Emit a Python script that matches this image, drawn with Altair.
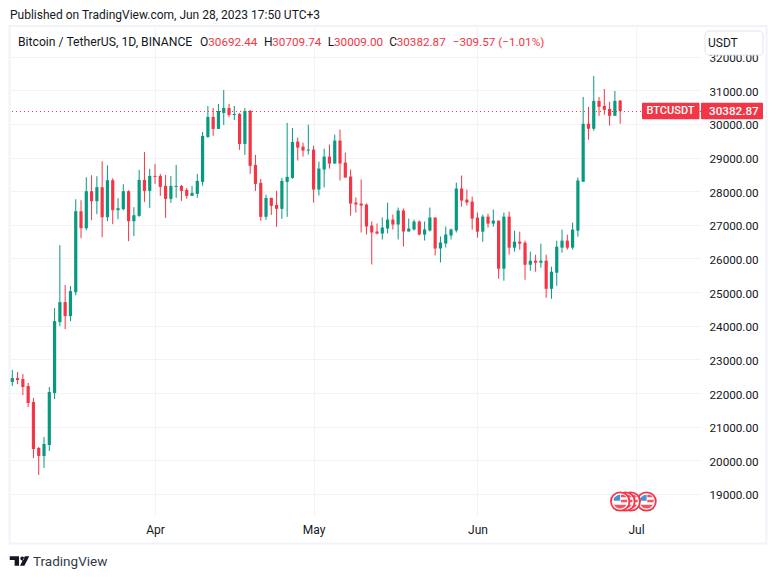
import altair as alt
import pandas as pd

opens = [22330,22446,22416,22209,21733,20367,20130,20456,22000,24109,24703,24287,25000,27406,26901,28000,27703,28119,27228,28327,27436,27465,28000,27109,
27268,28337,28010,28456,28456,28159,27773,28129,28159,28040,27862,27921,28277,29614,30208,29852,30327,30475,30267,30297,29406,30386,28782,28248,27238,27802,27594,27476,28277,28396,
29475,29327,29208,29238,28050,28644,29030,28822,29505,28852,28436,27664,27634,27604,26980,26802,26743,26891,27158,27010,27426,26802,26862,27099,26713,26832,27218,26297,26446,26683,26832,
28079,27752,27692,27216,26798,27245,27037,27126,25696,27245,26322,26500,26470,25815,25934,25875,25934,25100,25577,26322,26530,26322,26828,
28281,30005,29857,30685,30537,30448,30241,30692.44]
highs = [22684,22624,22565,22298,21852,20397,20694,22179,24525,26396,25208,25179,27762,27733,28416,28475,28446,28891,28772,28386,27792,28208,28030,27525,
28634,29168,28664,28812,28515,28485,28456,28782,28188,28100,28159,28515,29763,30535,30475,30594,31010,30594,30535,30327,30475,30416,29079,28366,27891,27802,28010,28396,30030,29881,
29594,29446,29980,29356,28881,29267,29386,29683,29832,29149,28644,27812,28347,27634,27099,27040,27218,27664,27307,27515,27485,27188,27158,27129,27099,27515,27218,26654,26951,26891,28258,
28467,28050,27841,27365,27305,27335,27454,27126,27365,27394,26828,26798,26530,26203,26113,26441,26113,25756,26530,26858,26709,27067,28407,
30803,30508,31424,30803,31039,30655,30980,30709.74]
lows = [22209,22268,21941,21585,20070,19565,19773,20278,21822,23990,23900,24139,24911,26604,26842,27139,27317,26634,27109,27020,27168,27436,26515,26664,
27238,27683,27505,28218,27861,27208,27654,27802,27713,27773,27862,27802,28159,29584,29644,29852,29970,30208,30119,29228,29079,28515,28010,27119,27149,27297,26941,27179,27238,28366,
28911,29030,29089,27664,27871,28109,28673,28822,28317,28406,27277,27367,26773,26713,25822,26713,26565,26743,26862,26565,26357,26802,26832,26683,26535,26802,26089,25881,26327,26565,26773,
27543,27573,26858,26620,26500,26918,26947,25398,25339,26113,26203,26262,25368,25637,25607,25726,24832,24802,25190,26173,26262,26262,26650,
28281,29532,29798,30241,30271,29946,30241,30009]
closes = [22445,22387,22179,21704,20337,20130,20486,22030,24139,24703,24287,25030,27406,26901,28000,27703,28119,27228,28327,27436,27495,28000,27109,27287,
28337,28010,28456,28426,28129,27773,28159,28159,28010,27862,27951,28307,29644,30208,29852,30386,30475,30267,30297,29406,30386,28753,28218,27238,27802,27565,27476,28307,28426,29465,
29297,29208,29238,28050,28673,29030,28822,29505,28822,28406,27634,27604,27575,26951,26773,26743,26921,27158,27010,27426,26802,26891,27099,26713,26862,27218,26297,26476,26713,26862,28079,
27722,27662,27186,26798,27245,27037,27126,25696,27245,26322,26500,26441,25815,25934,25875,25934,25100,25607,26352,26530,26322,26858,28318,
30005,29857,30685,30508,30419,30241,30685,30382.87]
first_day = "2023-03-05"
y_ticks = [19000,20000,21000,22000,23000,24000,25000,26000,27000,28000,29000,30000,31000,32000]
month_ticks = ["2023-04-01","2023-05-01","2023-06-01","2023-07-01"]
last_price = 30382.87
event_days = ["2023-07-03","2023-06-30","2023-06-29","2023-06-28"]

GREEN = "#089981"; RED = "#f23645"; GRID = "#f2f3f6"; FRAME = "#f0f3fa"; INK = "#131722"
FONT = "Roboto"

days = pd.date_range(first_day, periods=len(opens)).strftime("%Y-%m-%d").tolist()
candles = pd.DataFrame({"date": days, "o": opens, "h": highs, "l": lows, "c": closes})
candles["dir"] = ["up" if c >= o else "down" for o, c in zip(opens, closes)]

x_scale = alt.Scale(type="utc", domain=["2023-03-04T13:33:00Z", "2023-07-13T07:00:00Z"], padding=0, nice=False)
y_scale = alt.Scale(domain=[18345, 32882], nice=False, zero=False, padding=0)
x_axis = alt.Axis(format="%b", values=month_ticks, grid=True, gridColor=GRID, gridWidth=1,
                  domain=False, ticks=False, labelColor=INK, labelFontSize=12, labelFont=FONT,
                  labelPadding=8, labelFontWeight=400, title=None)
y_axis = alt.Axis(orient="right", values=y_ticks, format=".2f", grid=True, gridColor=GRID,
                  gridWidth=1, domain=False, ticks=False, labelColor=INK, labelFontSize=11.7,
                  labelFont=FONT, labelPadding=8, labelOverlap=False, labelOffset=1, title=None)
X = alt.X("date:T", scale=x_scale, axis=x_axis)
def Y(field):
    return alt.Y(field, scale=y_scale, axis=y_axis)
colr = alt.Color("dir:N", scale=alt.Scale(domain=["up","down"], range=[GREEN,RED]), legend=None)

wicks = alt.Chart(candles).mark_rule(strokeWidth=1).encode(x=X, y=Y("l:Q"), y2="h:Q", color=colr)
bodies = alt.Chart(candles).mark_bar(size=3.2).encode(x=X, y=Y("o:Q"), y2="c:Q", color=colr)

price_df = pd.DataFrame({"p": [last_price]})
dotted = alt.Chart(price_df).mark_rule(color=RED, strokeWidth=1, strokeDash=[1, 3], yOffset=0.44).encode(y=Y("p:Q"))

one = pd.DataFrame({"a": [0]})
def box(x1, x2, y1, y2, **kw):
    return alt.Chart(one).mark_rect(**kw).encode(
        x=alt.value(x1 - 10), x2=alt.value(x2 - 10), y=alt.value(y1 - 27), y2=alt.value(y2 - 27))
def label(txt, x, y, color=INK, size=12, **kw):
    return alt.Chart(pd.DataFrame({"t": [txt]})).mark_text(
        align="left", baseline="middle", color=color, fontSize=size, font=FONT, **kw).encode(
        text="t:N", x=alt.value(x - 10), y=alt.value(y - 27))

frame = box(9.5, 766.5, 26, 543.5, fill=None, stroke=FRAME, strokeWidth=2)
usdt_box = box(705, 763, 31, 55, fill="white", stroke="#e0e3eb", strokeWidth=1, cornerRadius=4)
tag1 = box(642, 699.5, 102.7, 119.3, fill=RED, cornerRadius=1)
tag2 = box(701, 763, 102.7, 119.3, fill=RED, cornerRadius=1)

texts = [
    label("Published on TradingView.com, Jun 28, 2023 17:50 UTC+3", 10, 15, size=12),
    label("Bitcoin / TetherUS, 1D, BINANCE", 18, 41.5, size=12.2),
    label("O", 200, 41.5), label("30692.44", 208.3, 41.5, color=RED, size=11.7),
    label("H", 264, 41.5), label("30709.74", 272.3, 41.5, color=RED, size=11.7),
    label("L", 327.7, 41.5), label("30009.00", 334, 41.5, color=RED, size=11.7),
    label("C", 389.3, 41.5), label("30382.87", 396.7, 41.5, color=RED, size=11.7),
    label("\u2212309.57 (\u22121.01%)", 452.7, 41.5, color=RED, size=11.7),
    label("USDT", 708, 43),
    label("BTCUSDT", 646.5, 111, color="white", size=11, fontWeight=500),
    label("30382.87", 709, 111, color="white", size=11.7, fontWeight=500),
    label("TradingView", 33, 561.5, color="#333a47", size=13.5),
]

# economic-event flag markers
CANTON = "M-.93,-.35V-.1H0V-.95A1,1 0 0 0 -.93,-.35Z"
STRIPES = ("M.1,-.98H.5Q.8,-.8 .92,-.6H.1Z"
           "M.1,-.25H1V.1H.1Z"
           "M-.9,.45H.9Q.6,.95 0,1Q-.6,.95 -.9,.45Z")
flags = []
for d in event_days:
    base = alt.Chart(pd.DataFrame({"date": [d]}))
    xx = alt.X("date:T", scale=x_scale, axis=x_axis)
    flags += [
        base.mark_point(shape="circle", filled=False, fill="white", fillOpacity=1, stroke=RED,
                        strokeWidth=1.8, size=340, opacity=1).encode(x=xx, y=alt.value(474.5)),
        base.mark_point(shape=STRIPES, filled=True, color="#f7525f", size=196, opacity=1).encode(
            x=xx, y=alt.value(474.5)),
        base.mark_point(shape=CANTON, filled=True, color="#4a90d9", size=196, opacity=1).encode(
            x=xx, y=alt.value(474.5)),
    ]

LOGO = "M-1,-.5H-.05V.5H-.5V-.1H-1ZM.08,-.25A.2,.2 0 1 0 .08,-.26ZM.55,-.5H1L.5,.5H.05Z"
logo = alt.Chart(one).mark_point(shape=LOGO, filled=True, color=INK, size=380, opacity=1).encode(
    x=alt.value(19.5 - 10), y=alt.value(561 - 27))

chart = alt.layer(
    frame, wicks, bodies, dotted, tag1, tag2, usdt_box, *flags, logo, *texts
).resolve_scale(x="shared", y="shared").properties(
    width=691, height=489,
    padding={"left": 2, "top": 19, "right": 68, "bottom": 55},
    autosize=alt.AutoSizeParams(type="none"),
    background="white",
).configure_view(strokeWidth=0)

chart.save("out.html", embed_options={"renderer": "svg", "actions": False})
